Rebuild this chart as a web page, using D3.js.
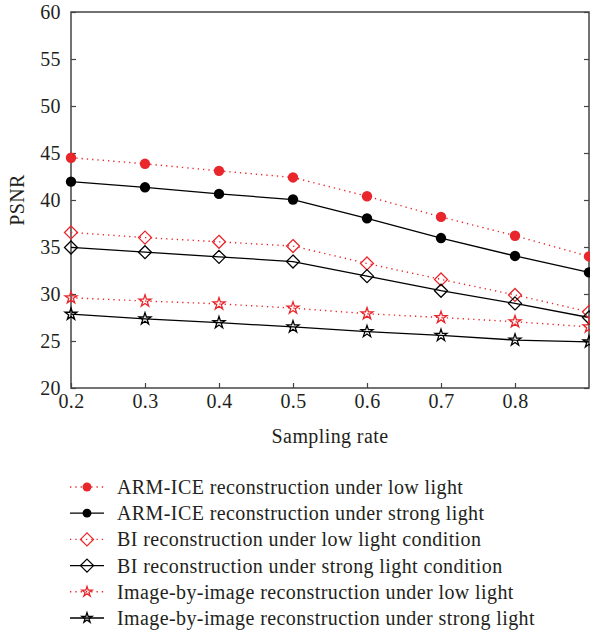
<!DOCTYPE html>
<html>
<head>
<meta charset="utf-8">
<script src="https://cdn.jsdelivr.net/npm/d3@7"></script>
<style>
  body { margin: 0; background: #fff; }
  svg { display: block; }
  text { font-family: "Liberation Serif", "DejaVu Serif", serif; fill: #231f20; letter-spacing: 0.4px; }
</style>
</head>
<body>
<svg id="chart" width="590" height="632"></svg>
<script>
const samplingRates = [0.2, 0.3, 0.4, 0.5, 0.6, 0.7, 0.8, 0.9];
const xTickLabels = [0.2, 0.3, 0.4, 0.5, 0.6, 0.7, 0.8];
const yTickLabels = [20, 25, 30, 35, 40, 45, 50, 55, 60];

const armIceLow    = [44.5, 43.85, 43.1, 42.4, 40.4, 38.2, 36.2, 34.0];
const armIceStrong = [41.95, 41.35, 40.65, 40.05, 38.05, 35.95, 34.05, 32.3];
const biLow        = [36.55, 36.0, 35.55, 35.1, 33.25, 31.55, 29.9, 28.1];
const biStrong     = [34.95, 34.45, 33.95, 33.45, 31.9, 30.35, 29.0, 27.5];
const ibiLow       = [29.6, 29.25, 28.95, 28.5, 27.9, 27.5, 27.05, 26.5];
const ibiStrong    = [27.85, 27.35, 26.95, 26.5, 26.0, 25.6, 25.1, 24.9];

const seriesNames = [
  "ARM-ICE reconstruction under low light",
  "ARM-ICE reconstruction under strong light",
  "BI reconstruction under low light condition",
  "BI reconstruction under strong light condition",
  "Image-by-image reconstruction under low light",
  "Image-by-image reconstruction under strong light"
];

const RED = "#e8262b";
const series = [
  {name: seriesNames[0], values: armIceLow,    color: RED,    dotted: true,  marker: "circle"},
  {name: seriesNames[1], values: armIceStrong, color: "#000", dotted: false, marker: "circle"},
  {name: seriesNames[2], values: biLow,        color: RED,    dotted: true,  marker: "diamond"},
  {name: seriesNames[3], values: biStrong,     color: "#000", dotted: false, marker: "diamond"},
  {name: seriesNames[4], values: ibiLow,       color: RED,    dotted: true,  marker: "star"},
  {name: seriesNames[5], values: ibiStrong,    color: "#000", dotted: false, marker: "star"}
];

const svg = d3.select("#chart");
const mLeft = 71, mRight = 589, mTop = 12, mBottom = 388;
const x = d3.scaleLinear().domain([0.2, 0.9]).range([mLeft, mRight]);
const y = d3.scaleLinear().domain([20, 60]).range([mBottom, mTop]);

const axisColor = "#444";
const FS = 20;

// Frame
svg.append("rect").attr("x", mLeft).attr("y", mTop)
  .attr("width", mRight - mLeft).attr("height", mBottom - mTop)
  .attr("fill", "none").attr("stroke", axisColor).attr("stroke-width", 1.5);

const yAxisL = svg.append("g").attr("transform", `translate(${mLeft},0)`)
  .call(d3.axisLeft(y).tickValues(yTickLabels).tickSize(-5).tickPadding(10).tickFormat(d3.format("d")));
const yAxisR = svg.append("g").attr("transform", `translate(${mRight},0)`)
  .call(d3.axisRight(y).tickValues(yTickLabels).tickSize(-5).tickFormat(""));
const xAxisB = svg.append("g").attr("transform", `translate(0,${mBottom})`)
  .call(d3.axisBottom(x).tickValues(xTickLabels).tickSize(-5).tickPadding(6).tickFormat(d3.format(".1f")));

[yAxisL, yAxisR, xAxisB].forEach(g => {
  g.select(".domain").remove();
  g.selectAll(".tick line").attr("stroke", axisColor).attr("stroke-width", 1.2);
  g.selectAll(".tick text").attr("font-family", "Liberation Serif, serif").attr("font-size", FS).attr("fill", "#231f20");
});

svg.append("text").attr("x", (mLeft + mRight) / 2).attr("y", 443)
  .attr("text-anchor", "middle").attr("font-size", FS).text("Sampling rate");
svg.append("text").attr("transform", `translate(24,${(mTop + mBottom) / 2}) rotate(-90)`)
  .attr("text-anchor", "middle").attr("font-size", FS).text("PSNR");

function drawMarker(g, s, cx, cy, scaleF) {
  if (s.marker === "circle") {
    g.append("circle").attr("cx", cx).attr("cy", cy).attr("r", 5.2 * scaleF)
      .attr("fill", s.color).attr("stroke", "none");
  } else if (s.marker === "diamond") {
    const r = 6.5 * scaleF;
    g.append("path").attr("d", `M${cx},${cy - r}L${cx + r},${cy}L${cx},${cy + r}L${cx - r},${cy}Z`)
      .attr("fill", "none").attr("stroke", s.color).attr("stroke-width", 1.3);
  } else {
    g.append("path").attr("d", d3.symbol().type(d3.symbolStar).size(44 * scaleF * scaleF)())
      .attr("transform", `translate(${cx},${cy})`)
      .attr("fill", "none").attr("stroke", s.color).attr("stroke-width", 1.3);
  }
}

const line = d3.line().x((d, i) => x(samplingRates[i])).y(d => y(d));

const plot = svg.append("g");
series.forEach(s => {
  plot.append("path").datum(s.values).attr("d", line)
    .attr("fill", "none").attr("stroke", s.color)
    .attr("stroke-width", s.dotted ? 1.4 : 1.3)
    .attr("stroke-dasharray", s.dotted ? "1.3,4" : null);
});
series.forEach(s => {
  const g = plot.append("g");
  s.values.forEach((v, i) => drawMarker(g, s, x(samplingRates[i]), y(v), 1));
});

// Legend
const legend = svg.append("g");
const legY0 = 487, legDy = 26.2;
series.forEach((s, i) => {
  const yy = legY0 + i * legDy;
  legend.append("line").attr("x1", 70).attr("x2", 104).attr("y1", yy).attr("y2", yy)
    .attr("stroke", s.color).attr("stroke-width", s.dotted ? 1.4 : 1.3)
    .attr("stroke-dasharray", s.dotted ? "1.3,4" : null);
  drawMarker(legend, s, 87, yy, s.marker === "diamond" ? 1 : 0.85);
  legend.append("text").attr("x", 117).attr("y", yy).attr("dy", "0.35em")
    .attr("font-size", FS).text(s.name);
});
</script>
</body>
</html>
